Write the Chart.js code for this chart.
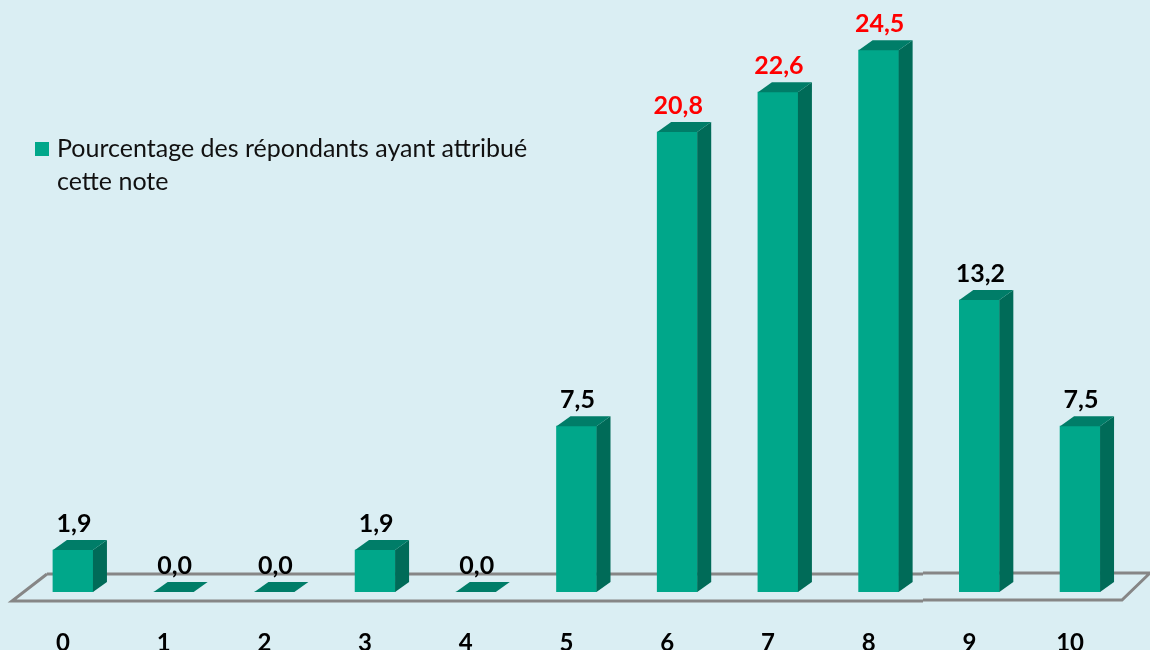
<!DOCTYPE html>
<html lang="fr">
<head>
<meta charset="utf-8">
<title>Note attribuée</title>
<style>
  html, body { margin: 0; padding: 0; background: #daeef3; }
  #wrap { width: 1150px; height: 650px; overflow: hidden; }
</style>
</head>
<body>
<div id="wrap"><canvas id="noteChart" width="1150" height="650"></canvas></div>
<script src="https://cdn.jsdelivr.net/npm/chart.js@4"></script>
<script>
// The title is cut off by the top edge in the reference and cannot be read, so it is left out.
const notes = ['0', '1', '2', '3', '4', '5', '6', '7', '8', '9', '10'];
const pourcentages = [1.9, 0, 0, 1.9, 0, 7.5, 20.8, 22.6, 24.5, 13.2, 7.5];
const legendLines = ['Pourcentage des répondants ayant attribué', 'cette note'];
const highlighted = ['6', '7', '8'];

const FONT = "Lato, Carlito, 'Open Sans', sans-serif";
const front = '#00a78a';
const topFace = '#007d68';
const sideFace = '#006b58';
const floorLine = '#868686';
const depthX = 14;
const depthY = 10;

// floor under the bars, drawn before them
const floorPlugin = {
  id: 'floor',
  beforeDatasetsDraw(chart) {
    const { ctx, scales } = chart;
    const base = scales.y.getPixelForValue(0);
    ctx.save();
    ctx.strokeStyle = floorLine;
    ctx.lineWidth = 3;
    ctx.beginPath();
    ctx.moveTo(47, base - 18);
    ctx.lineTo(923, base - 18);
    ctx.moveTo(923, base - 19);
    ctx.lineTo(1150, base - 19);
    ctx.moveTo(1150, base - 19);
    ctx.lineTo(1122, base + 8);
    ctx.lineTo(923, base + 8);
    ctx.moveTo(923, base + 9);
    ctx.lineTo(12, base + 9);
    ctx.lineTo(47, base - 18);
    ctx.stroke();
    ctx.restore();
  }
};

// top and side faces of each bar, taken from the bar elements
const depthPlugin = {
  id: 'depth',
  afterDatasetsDraw(chart) {
    const { ctx } = chart;
    chart.getDatasetMeta(0).data.forEach(bar => {
      const left = bar.x - bar.width / 2;
      const right = bar.x + bar.width / 2;
      ctx.fillStyle = sideFace;
      ctx.beginPath();
      ctx.moveTo(right, bar.y);
      ctx.lineTo(right + depthX, bar.y - depthY);
      ctx.lineTo(right + depthX, bar.base - depthY);
      ctx.lineTo(right, bar.base);
      ctx.closePath();
      ctx.fill();
      ctx.fillStyle = topFace;
      ctx.beginPath();
      ctx.moveTo(left, bar.y);
      ctx.lineTo(left + depthX, bar.y - depthY);
      ctx.lineTo(right + depthX, bar.y - depthY);
      ctx.lineTo(right, bar.y);
      ctx.closePath();
      ctx.fill();
    });
  }
};

const valueLabels = {
  id: 'valueLabels',
  afterDatasetsDraw(chart) {
    const { ctx } = chart;
    ctx.save();
    ctx.font = 'bold 25px ' + FONT;
    ctx.textAlign = 'center';
    ctx.textBaseline = 'middle';
    chart.getDatasetMeta(0).data.forEach((bar, i) => {
      ctx.fillStyle = highlighted.includes(notes[i]) ? '#ff0000' : '#000000';
      ctx.fillText(pourcentages[i].toFixed(1).replace('.', ','), bar.x + 1, bar.y - 26);
    });
    ctx.restore();
  }
};

const legendBlock = {
  id: 'legendBlock',
  afterDraw(chart) {
    const { ctx } = chart;
    ctx.save();
    ctx.fillStyle = front;
    ctx.fillRect(35, 142, 14, 14);
    ctx.fillStyle = '#111111';
    ctx.font = '25px ' + FONT;
    ctx.textBaseline = 'middle';
    legendLines.forEach((line, i) => ctx.fillText(line, 57, 149 + i * 33));
    ctx.restore();
  }
};

new Chart(document.getElementById('noteChart'), {
  type: 'bar',
  data: {
    labels: notes,
    datasets: [{
      label: legendLines.join(' '),
      data: pourcentages,
      backgroundColor: front,
      borderWidth: 0,
      barThickness: 40,
      minBarLength: 0
    }]
  },
  options: {
    responsive: false,
    animation: false,
    layout: { padding: { left: 22.6, right: 19.6, top: 17, bottom: 0 } },
    plugins: {
      legend: { display: false },
      tooltip: { enabled: false }
    },
    scales: {
      x: {
        grid: { display: false },
        border: { display: false },
        afterFit: (scale) => { scale.height = 58; },
        ticks: {
          color: '#000000',
          padding: 29,
          labelOffset: -10,
          maxRotation: 0,
          font: { family: FONT, size: 24, weight: 'bold' }
        }
      },
      y: { display: false, min: 0, max: 26 }
    }
  },
  plugins: [floorPlugin, depthPlugin, valueLabels, legendBlock]
});
</script>
</body>
</html>
